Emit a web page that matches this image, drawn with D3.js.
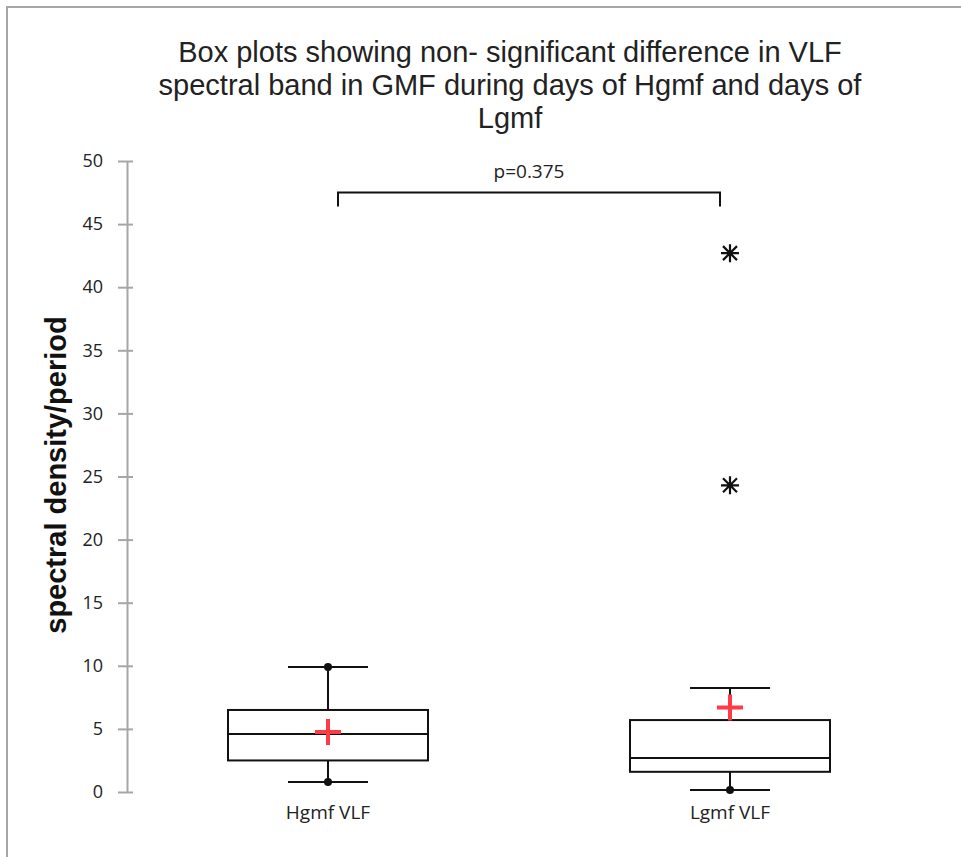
<!DOCTYPE html>
<html>
<head>
<meta charset="utf-8">
<script src="https://cdn.jsdelivr.net/npm/d3@7"></script>
<style>
  body { margin: 0; background: #fff; }
  svg { display: block; }
</style>
</head>
<body>
<div id="chart"></div>
<script>
// box plot data
var categories = ["Hgmf VLF", "Lgmf VLF"];
var whiskerLow  = [0.8, 0.15];
var q1          = [2.5, 1.6];
var median      = [4.6, 2.7];
var q3          = [6.5, 5.7];
var whiskerHigh = [9.9, 8.25];
var means       = [4.75, 6.7];
var outliers    = [[], [24.3, 42.7]];
var yTicks      = [0, 5, 10, 15, 20, 25, 30, 35, 40, 45, 50];
var titleLines  = ["Box plots showing non- significant difference in VLF",
                   "spectral band in GMF during days of Hgmf and days of",
                   "Lgmf"];
var pLabel = "p=0.375";

var width = 961, height = 857;
var svg = d3.select("#chart").append("svg")
  .attr("width", width)
  .attr("height", height);

// frame (only top and left edges show)
svg.append("path")
  .attr("d", "M7,857 V7 H961")
  .attr("fill", "none")
  .attr("stroke", "#a6a6a6")
  .attr("stroke-width", 2);

var y = d3.scaleLinear().domain([0, 50]).range([792, 161]);
var x = d3.scaleBand().domain(categories).range([127, 931]).paddingInner(0.5).paddingOuter(0.25);
var boxW = 200, capW = 80;

// title
svg.append("text")
  .attr("text-anchor", "middle")
  .attr("font-family", "'Liberation Sans Narrow', 'Arial Narrow', 'Liberation Sans', sans-serif")
  .attr("font-size", 29)
  .attr("fill", "#222")
  .selectAll("tspan")
  .data(titleLines)
  .enter().append("tspan")
  .attr("x", 510)
  .attr("y", function(d, i) { return 62 + i * 33; })
  .text(function(d) { return d; });

// y axis
var yAxis = svg.append("g")
  .attr("transform", "translate(127,0)")
  .call(d3.axisLeft(y).tickValues(yTicks).tickSize(0).tickPadding(24));
yAxis.select(".domain").attr("stroke", "#a6a6a6").attr("stroke-width", 2);
yAxis.selectAll("text")
  .attr("font-family", "'Open Sans', sans-serif")
  .attr("font-size", 18)
  .attr("fill", "#222");
yAxis.selectAll(".tick").append("line")
  .attr("x1", -9).attr("x2", 6)
  .attr("stroke", "#a6a6a6").attr("stroke-width", 2);

svg.append("text")
  .attr("transform", "translate(66,475) rotate(-90)")
  .attr("text-anchor", "middle")
  .attr("font-family", "'Liberation Sans', Arial, sans-serif")
  .attr("font-weight", "bold")
  .attr("font-size", 29)
  .attr("fill", "#111")
  .text("spectral density/period");

// x labels
svg.selectAll(".xlab")
  .data(categories)
  .enter().append("text")
  .attr("class", "xlab")
  .attr("x", function(d) { return x(d) + x.bandwidth() / 2; })
  .attr("y", 819)
  .attr("text-anchor", "middle")
  .attr("font-family", "'Open Sans', sans-serif")
  .attr("font-size", 19)
  .attr("fill", "#222")
  .text(function(d) { return d; });

var boxes = svg.selectAll(".box")
  .data(categories)
  .enter().append("g")
  .attr("class", "box")
  .attr("transform", function(d) { return "translate(" + (x(d) + x.bandwidth() / 2) + ",0)"; });

// whiskers
boxes.append("line")
  .attr("x1", 0).attr("x2", 0)
  .attr("y1", function(d, i) { return y(whiskerLow[i]); })
  .attr("y2", function(d, i) { return y(whiskerHigh[i]); })
  .attr("stroke", "#111").attr("stroke-width", 2);
boxes.append("line")
  .attr("x1", -capW / 2).attr("x2", capW / 2)
  .attr("y1", function(d, i) { return y(whiskerLow[i]); })
  .attr("y2", function(d, i) { return y(whiskerLow[i]); })
  .attr("stroke", "#111").attr("stroke-width", 2);
boxes.append("line")
  .attr("x1", -capW / 2).attr("x2", capW / 2)
  .attr("y1", function(d, i) { return y(whiskerHigh[i]); })
  .attr("y2", function(d, i) { return y(whiskerHigh[i]); })
  .attr("stroke", "#111").attr("stroke-width", 2);

// box
boxes.append("rect")
  .attr("x", -boxW / 2)
  .attr("width", boxW)
  .attr("y", function(d, i) { return y(q3[i]); })
  .attr("height", function(d, i) { return y(q1[i]) - y(q3[i]); })
  .attr("fill", "#fff")
  .attr("stroke", "#111").attr("stroke-width", 2);
boxes.append("line")
  .attr("x1", -boxW / 2).attr("x2", boxW / 2)
  .attr("y1", function(d, i) { return y(median[i]); })
  .attr("y2", function(d, i) { return y(median[i]); })
  .attr("stroke", "#111").attr("stroke-width", 2);

// min/max dots
boxes.append("circle")
  .attr("cy", function(d, i) { return y(whiskerLow[i]); })
  .attr("r", 4).attr("fill", "#111");
boxes.filter(function(d, i) { return outliers[i].length === 0; })
  .append("circle")
  .attr("cy", function(d, i) { return y(whiskerHigh[i]); })
  .attr("r", 4).attr("fill", "#111");

// mean crosses
boxes.append("path")
  .attr("d", function(d, i) {
    var cy = y(means[i]);
    return "M-13," + cy + "H13M0," + (cy - 13) + "V" + (cy + 13);
  })
  .attr("stroke", "#ff3b47").attr("stroke-width", 4);

// outliers as asterisks
boxes.each(function(d, i) {
  var g = d3.select(this);
  outliers[i].forEach(function(v) {
    var cy = y(v);
    g.append("path")
      .attr("d", "M-9," + cy + "H9M0," + (cy - 9) + "V" + (cy + 9) +
                 "M-7," + (cy - 7) + "L7," + (cy + 7) + "M-7," + (cy + 7) + "L7," + (cy - 7))
      .attr("stroke", "#111").attr("stroke-width", 2.2);
  });
});

// significance bracket
var bx1 = 338, bx2 = 720, by = y(47.5);
svg.append("path")
  .attr("d", "M" + bx1 + "," + (by + 14) + "V" + by + "H" + bx2 + "V" + (by + 14))
  .attr("fill", "none")
  .attr("stroke", "#111").attr("stroke-width", 2);
svg.append("text")
  .attr("x", (bx1 + bx2) / 2)
  .attr("y", 178)
  .attr("text-anchor", "middle")
  .attr("font-family", "'Open Sans', sans-serif")
  .attr("font-size", 19)
  .attr("fill", "#222")
  .text(pLabel);
</script>
</body>
</html>
